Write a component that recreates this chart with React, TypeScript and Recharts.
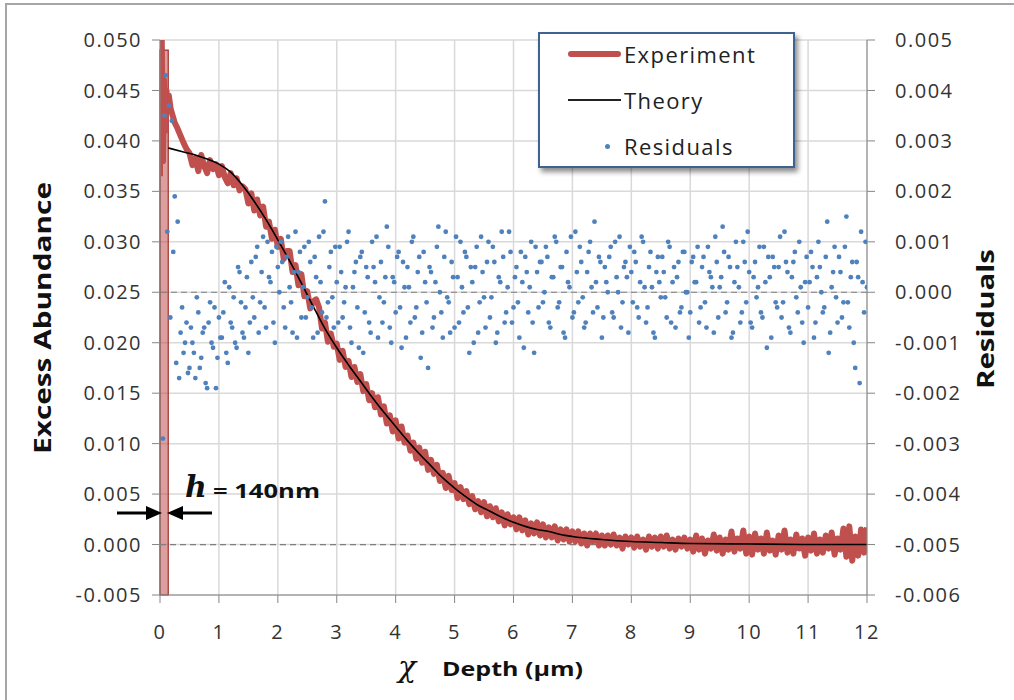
import { ComposedChart, Line, Scatter, XAxis, YAxis, CartesianGrid, ReferenceLine, ReferenceArea } from 'recharts'

const DEPTH_TICKS = [0, 1, 2, 3, 4, 5, 6, 7, 8, 9, 10, 11, 12]
const ABUNDANCE_TICKS = [-0.005, 0, 0.005, 0.01, 0.015, 0.02, 0.025, 0.03, 0.035, 0.04, 0.045, 0.05]
const RESIDUAL_TICKS = [-0.006, -0.005, -0.004, -0.003, -0.002, -0.001, 0, 0.001, 0.002, 0.003, 0.004, 0.005]

// surface spike region, read point by point
const EXP_HEAD_X = [0, 0.01, 0.02, 0.03, 0.05, 0.07, 0.09, 0.11, 0.13, 0.15, 0.18, 0.2, 0.25, 0.3, 0.35, 0.4, 0.45]
const EXP_HEAD_Y = [0.0365, 0.052, 0.04, 0.05, 0.038, 0.046, 0.041, 0.045, 0.043, 0.0445, 0.0432, 0.0428, 0.0418, 0.0412, 0.0405, 0.0398, 0.0392]

// rest of the profile, one reading every 0.05 µm from 0.5 µm
const EXP_TAIL_START = 0.5
const EXP_TAIL_STEP = 0.05
const EXP_TAIL_Y = [
  0.0388, 0.0376, 0.0383, 0.037, 0.0386, 0.0375, 0.0368, 0.0381, 0.0372, 0.0377,
  0.0366, 0.0375, 0.0364, 0.0358, 0.0368, 0.0356, 0.0363, 0.0351, 0.0355, 0.0352,
  0.0338, 0.0348, 0.0331, 0.0342, 0.0326, 0.0335, 0.0315, 0.032, 0.0303, 0.0312,
  0.0295, 0.0303, 0.0283, 0.0291, 0.0291, 0.027, 0.0277, 0.0257, 0.0268, 0.0246,
  0.0251, 0.0234, 0.0241, 0.0243, 0.0235, 0.0214, 0.022, 0.0201, 0.0209, 0.0196,
  0.0199, 0.0183, 0.0192, 0.0176, 0.0182, 0.0166, 0.0176, 0.0161, 0.0169, 0.0152,
  0.0159, 0.0143, 0.015, 0.0136, 0.0146, 0.0129, 0.0137, 0.012, 0.0128, 0.0112,
  0.0123, 0.0105, 0.0117, 0.0101, 0.0108, 0.0093, 0.0101, 0.0085, 0.0096, 0.0081,
  0.0092, 0.0074, 0.0084, 0.007, 0.0079, 0.0063, 0.0071, 0.0056, 0.0068, 0.0054,
  0.0061, 0.0046, 0.0057, 0.0045, 0.0053, 0.004, 0.0048, 0.0035, 0.0043, 0.0032,
  0.0042, 0.0028, 0.0038, 0.0027, 0.0036, 0.0023, 0.0032, 0.0019, 0.003, 0.002,
  0.0027, 0.0015, 0.0027, 0.0014, 0.0024, 0.001, 0.0021, 0.0011, 0.0022, 0.0009,
  0.002, 0.0007, 0.0017, 0.0007, 0.0018, 0.0004, 0.0015, 0.0005, 0.0015, 0.0003,
  0.0013, 0.0003, 0.0013, 0.0001, 0.0011, -0.0001, 0.0011, 0.0003, 0.0011, -0.0001,
  0.0009, -0.0001, 0.0009, 0.0, 0.001, -0.0001, 0.0007, -0.0004, 0.0008, 0.0,
  0.0007, -0.0003, 0.0008, -0.0002, 0.0005, -0.0005, 0.0008, -0.0002, 0.0007, -0.0004,
  0.0008, -0.0002, 0.0009, -0.0004, 0.0005, -0.0005, 0.0006, -0.0002, 0.0007, -0.0004,
  0.0005, -0.0007, 0.0009, -0.0005, 0.0006, -0.0009, 0.0004, -0.0004, 0.001, -0.0006,
  0.0007, -0.0009, 0.0005, -0.0005, 0.0013, -0.0007, 0.0006, -0.0004, 0.0014, -0.0009,
  0.0008, -0.001, 0.0011, -0.0005, 0.0006, -0.0009, 0.0012, -0.0006, 0.0004, -0.001,
  0.0009, -0.0005, 0.0014, -0.0008, 0.0005, -0.0009, 0.001, -0.0004, 0.0006, -0.0011,
  0.0007, -0.0006, 0.0011, -0.0009, 0.0005, -0.0008, 0.0009, -0.0004, 0.0012, -0.001,
  0.0006, -0.0005, 0.0016, -0.0012, 0.0018, -0.0016, 0.0008, -0.0011, 0.0015, -0.0008,
  0.0017,
]

const THEORY_X = [0.14, 0.4, 0.6, 0.8, 1.0, 1.2, 1.4, 1.6, 1.8, 2.0, 2.2, 2.4, 2.6, 2.8, 3.0, 3.2, 3.4, 3.6, 3.8, 4.0, 4.2, 4.4, 4.6, 4.8, 5.0, 5.2, 5.4, 5.6, 5.8, 6.0, 6.2, 6.4, 6.6, 6.8, 7.0, 7.5, 8.0, 8.5, 9.0, 10.0, 11.0, 12.0]
const THEORY_Y = [0.0393, 0.0389, 0.0386, 0.0382, 0.0377, 0.0369, 0.0356, 0.034, 0.0322, 0.0302, 0.0281, 0.0259, 0.0236, 0.0214, 0.0195, 0.0178, 0.0162, 0.0146, 0.0131, 0.0117, 0.0103, 0.009, 0.0078, 0.0066, 0.0056, 0.0047, 0.0039, 0.0033, 0.0027, 0.0022, 0.0018, 0.0015, 0.0013, 0.001, 0.0008, 0.0005, 0.0003, 0.0002, 0.0001, 0.00005, 0, 0]

// residuals, two interleaved passes, one every 0.05 µm each
const RES_A_START = 0.05
const RES_B_START = 0.075
const RES_STEP = 0.05
const RESIDUALS_A = [
  -0.0029, 0.0043, 0.0037, 0.0034, 0.0019, 0.0014, -0.0008, -0.0012, -0.0006, -0.0015,
  -0.001, -0.0017, -0.0004, -0.0013, -0.0007, -0.0019, -0.0002, -0.0011, -0.0019, -0.0005,
  -0.0009, 0.0002, -0.0014, -0.0006, -0.0001, -0.0011, 0.0004, -0.0008, -0.0003, -0.0012,
  0.0006, -0.0005, 0.0009, -0.0002, 0.0011, -0.0007, 0.0003, 0.0008, -0.001, 0.0005,
  0.001, -0.0003, 0.0007, 0.0001, -0.0008, 0.0012, 0.0004, -0.0005, 0.0009, -0.0001,
  0.0006, -0.0009, 0.0003, 0.0011, -0.0004, 0.0018, -0.0002, 0.0008, -0.0007, 0.0002,
  0.0009, -0.0005, 0.0001, 0.0012, -0.001, 0.0004, -0.0003, 0.0007, -0.0012, 0.0005,
  -0.0006, 0.001, 0.0002, -0.0009, 0.0006, -0.0002, 0.0013, -0.0007, 0.0003, -0.0004,
  0.0008, -0.0011, 0.0001, 0.0005, -0.0006, 0.0011, -0.0003, 0.0007, -0.0008, 0.0002,
  -0.0015, 0.0004, -0.0005, 0.0009, 0.0, -0.0009, 0.0012, -0.0002, 0.0006, -0.0007,
  0.0003, 0.001, -0.0004, 0.0007, -0.0012, 0.0002, 0.0005, -0.0008, 0.0011, -0.0001,
  0.0006, -0.0005, 0.0009, -0.001, 0.0003, 0.0012, -0.0006, 0.0001, 0.0008, -0.0003,
  0.0005, -0.0009, 0.0002, 0.0007, -0.0004, 0.001, -0.0012, 0.0004, 0.0006, -0.0002,
  0.0009, -0.0006, 0.0003, 0.0011, -0.0003, 0.0005, -0.0008, 0.0008, 0.0001, -0.0005,
  0.0012, -0.0002, 0.0006, -0.0007, 0.0004, 0.001, -0.0004, 0.0002, 0.0007, -0.0009,
  0.0005, 0.0, 0.0009, -0.0005, 0.0003, 0.0011, -0.0002, 0.0006, -0.0008, 0.0004,
  0.0008, -0.0003, 0.0002, 0.001, -0.0006, 0.0005, 0.0001, -0.0009, 0.0007, -0.0001,
  0.0004, -0.0005, 0.0009, 0.0002, -0.0007, 0.0006, -0.0003, 0.0008, 0.0, -0.0004,
  0.0007, 0.0002, -0.0006, 0.0005, -0.0002, 0.0009, 0.0003, -0.0008, 0.0006, 0.0001,
  0.0013, -0.0004, 0.0007, -0.0009, 0.0002, 0.0005, -0.0006, 0.001, -0.0002, 0.0004,
  -0.0007, 0.0006, 0.0001, -0.0004, 0.0009, -0.0011, 0.0003, 0.0007, -0.0002, 0.0005,
  -0.0005, 0.0012, 0.0004, -0.0008, 0.0006, -0.0001, 0.001, -0.0006, 0.0002, -0.0003,
  0.0008, -0.0009, 0.0003, 0.0005, -0.0004, 0.0007, -0.0012, 0.0001, 0.0009, -0.0006,
  0.0004, -0.0002, 0.0015, -0.0007, 0.0006, -0.0015, 0.0003, 0.0012, -0.0004, 0.0001,
]
const RESIDUALS_B = [
  0.0035, 0.0012, -0.0005, 0.0008, -0.0014, -0.0017, -0.0003, -0.001, -0.0016, -0.0007,
  -0.0012, -0.0001, -0.0015, -0.0008, -0.0018, -0.0006, -0.001, -0.0003, -0.0013, -0.0009,
  -0.0004, -0.0012, 0.0001, -0.0007, -0.001, 0.0005, -0.0002, -0.0009, 0.0003, -0.0006,
  -0.0001, 0.0007, -0.0008, 0.0004, -0.0003, 0.001, 0.0002, -0.0006, 0.0009, 0.0,
  0.0006, -0.0007, 0.0011, -0.0002, 0.0004, -0.0009, 0.0008, 0.0001, -0.0005, 0.001,
  -0.0003, 0.0007, -0.0008, 0.0002, 0.0012, -0.0005, 0.0005, -0.0001, 0.0009, -0.0006,
  0.0004, -0.0002, 0.001, -0.0007, 0.0001, 0.0006, -0.0011, 0.0008, -0.0004, 0.0003,
  -0.0008, 0.0005, 0.0011, -0.0001, -0.0006, 0.0003, 0.0009, -0.001, 0.0002, 0.0007,
  -0.0003, 0.0006, -0.0009, 0.0001, 0.001, -0.0005, 0.0004, -0.0013, 0.0008, -0.0002,
  0.0005, -0.0007, 0.0002, 0.0013, -0.0004, 0.0007, -0.0001, -0.0008, 0.0003, 0.0011,
  -0.0006, 0.0001, 0.0008, -0.0003, 0.0005, -0.001, 0.0009, -0.0002, 0.0004, -0.0007,
  0.001, -0.0001, 0.0006, -0.0008, 0.0002, 0.0007, -0.0004, 0.0012, -0.0006, 0.0003,
  -0.0002, 0.0008, -0.0011, 0.0004, 0.0001, -0.0006, 0.0009, -0.0003, 0.0006, 0.0,
  0.0007, -0.0007, 0.0003, 0.001, -0.0002, 0.0005, -0.0009, 0.0002, 0.0011, -0.0004,
  0.0004, 0.0009, -0.0001, -0.0006, 0.0008, 0.0001, 0.0014, -0.0003, 0.0006, -0.0005,
  0.0002, 0.0007, -0.0004, 0.001, 0.0, -0.0007, 0.0005, 0.0003, 0.0009, -0.0002,
  0.0006, -0.0005, 0.0011, 0.0001, -0.0003, 0.0008, -0.0008, 0.0004, 0.0002, 0.0007,
  -0.0001, 0.001, -0.0006, 0.0005, 0.0003, -0.0004, 0.0008, 0.0, -0.0009, 0.0006,
  0.0002, 0.0009, -0.0003, 0.0007, -0.0007, 0.0004, 0.0001, 0.0011, -0.0005, 0.0003,
  0.0008, -0.0002, 0.0005, -0.0008, 0.001, 0.0001, -0.0004, 0.0006, 0.0012, -0.0006,
  0.0003, -0.0001, 0.0009, -0.0005, 0.0002, 0.0007, -0.0009, 0.0005, -0.0003, 0.0011,
  -0.0002, 0.0006, -0.0007, 0.0003, 0.0008, -0.0004, 0.0001, -0.001, 0.0007, 0.0002,
  0.0005, -0.0006, 0.001, 0.0, -0.0003, 0.0014, -0.0008, 0.0004, -0.0001, 0.0007,
  -0.0005, 0.0009, -0.0002, 0.0003, -0.001, 0.0006, -0.0018, 0.0002, 0.001,
]

const RED = '#c0504d'
const BLUE = '#4f81bd'
const AXIS_GRAY = '#868686'
const GRID_GRAY = '#d9d9d9'
const TICK_FONT = { fill: '#333', fontSize: 20, fontFamily: 'Open Sans', letterSpacing: 1.5 }

const experimentData = [
  ...EXP_HEAD_X.map((x, i) => ({ x, y: EXP_HEAD_Y[i] })),
  ...EXP_TAIL_Y.map((y, i) => ({ x: +(EXP_TAIL_START + i * EXP_TAIL_STEP).toFixed(3), y })),
]
const theoryData = THEORY_X.map((x, i) => ({ x, y: THEORY_Y[i] }))
const residualData = [
  ...RESIDUALS_A.map((y, i) => ({ x: +(RES_A_START + i * RES_STEP).toFixed(3), y })),
  ...RESIDUALS_B.map((y, i) => ({ x: +(RES_B_START + i * RES_STEP).toFixed(3), y })),
]

const Dot = (props: any) => <circle cx={props.cx} cy={props.cy} r={2.4} fill={BLUE} />

function LegendBox() {
  const row = { display: 'flex', alignItems: 'center', height: 46 }
  const label = { fontFamily: 'Open Sans', fontSize: 22, color: '#222', letterSpacing: 1.4 }
  return (
    <div
      style={{
        position: 'absolute', left: 538, top: 32, width: 253, height: 132,
        background: '#fff', border: '2px solid #3f6390',
        boxShadow: '3px 4px 5px rgba(0,0,0,0.45)', boxSizing: 'content-box',
      }}
    >
      <div style={{ ...row, marginTop: -3 }}>
        <div style={{ width: 53, height: 6, background: RED, borderRadius: 3, marginLeft: 28, marginRight: 3 }} />
        <span style={label}>Experiment</span>
      </div>
      <div style={row}>
        <div style={{ width: 53, height: 2, background: '#222', marginLeft: 28, marginRight: 3 }} />
        <span style={label}>Theory</span>
      </div>
      <div style={row}>
        <div style={{ width: 53, marginLeft: 28, marginRight: 3, display: 'flex', justifyContent: 'center' }}>
          <div style={{ width: 5, height: 5, borderRadius: 3, background: BLUE, marginLeft: 26 }} />
        </div>
        <span style={label}>Residuals</span>
      </div>
    </div>
  )
}

export default function App() {
  return (
    <div style={{ position: 'absolute', left: 0, top: 0, width: 1014, height: 700, background: '#fff', overflow: 'hidden' }}>
      <div style={{ position: 'absolute', left: 5, top: 3, width: 1100, height: 800, borderLeft: '2px solid #a6a6a6', borderTop: '2px solid #a6a6a6' }} />
      <ComposedChart width={1014} height={700} data={experimentData} margin={{ top: 40, right: 0, bottom: 0, left: 0 }}>
        <CartesianGrid yAxisId="left" stroke={GRID_GRAY} strokeWidth={1.5} />
        <XAxis
          type="number"
          dataKey="x"
          domain={[0, 12]}
          ticks={DEPTH_TICKS}
          allowDataOverflow
          height={105}
          tickSize={8}
          tickMargin={22}
          stroke={AXIS_GRAY}
          tick={TICK_FONT}
        />
        <YAxis
          yAxisId="left"
          dataKey="y"
          type="number"
          domain={[-0.005, 0.05]}
          ticks={ABUNDANCE_TICKS}
          allowDataOverflow
          width={160}
          tickSize={8}
          tickMargin={10}
          stroke={AXIS_GRAY}
          tick={TICK_FONT}
          tickFormatter={(v: number) => v.toFixed(3)}
        />
        <YAxis
          yAxisId="right"
          orientation="right"
          dataKey="y"
          type="number"
          domain={[-0.006, 0.005]}
          ticks={RESIDUAL_TICKS}
          allowDataOverflow
          width={147}
          tickSize={8}
          tickMargin={20}
          stroke={AXIS_GRAY}
          tick={{ ...TICK_FONT, textAnchor: 'start' }}
          tickFormatter={(v: number) => v.toFixed(3)}
        />
        <ReferenceLine yAxisId="left" y={0} stroke="#7f7f7f" strokeDasharray="6 4" strokeWidth={1.2} />
        <ReferenceLine yAxisId="right" y={0} stroke="#7f7f7f" strokeDasharray="6 4" strokeWidth={1.2} />
        <Line
          yAxisId="left"
          data={experimentData}
          dataKey="y"
          stroke={RED}
          strokeWidth={6}
          strokeLinejoin="round"
          dot={false}
          isAnimationActive={false}
        />
        <Line
          yAxisId="left"
          data={theoryData}
          dataKey="y"
          type="monotone"
          stroke="#000"
          strokeWidth={1.6}
          dot={false}
          isAnimationActive={false}
        />
        <ReferenceArea
          yAxisId="left"
          x1={0}
          x2={0.14}
          y1={-0.005}
          y2={0.049}
          fill={RED}
          fillOpacity={0.55}
          stroke="#a0302c"
          strokeOpacity={1}
          strokeWidth={1.2}
        />
        <Scatter yAxisId="right" data={residualData} shape={Dot} isAnimationActive={false} />
      </ComposedChart>

      <svg width={1014} height={700} style={{ position: 'absolute', left: 0, top: 0, pointerEvents: 'none' }}>
        <text
          transform="translate(51,318) rotate(-90)"
          textAnchor="middle"
          fontFamily="Open Sans"
          fontWeight="bold"
          fontSize={24}
          textLength={272}
          lengthAdjust="spacingAndGlyphs"
          fill="#111"
        >
          Excess Abundance
        </text>
        <text
          transform="translate(994,319) rotate(-90)"
          textAnchor="middle"
          fontFamily="Open Sans"
          fontWeight="bold"
          fontSize={24}
          textLength={140}
          lengthAdjust="spacingAndGlyphs"
          fill="#111"
        >
          Residuals
        </text>
        <text x={398} y={677} fontFamily="DejaVu Serif" fontStyle="italic" fontSize={30} fill="#111">χ</text>
        <text x={442} y={676} fontFamily="Open Sans" fontWeight="bold" fontSize={19} textLength={141} lengthAdjust="spacingAndGlyphs" fill="#111">
          Depth (µm)
        </text>
        <text x={185} y={497} fontFamily="DejaVu Serif" fontStyle="italic" fontWeight="bold" fontSize={30} fill="#111">h</text>
        <text x={213} y={498} fontFamily="Open Sans" fontWeight="bold" fontSize={19} textLength={107} lengthAdjust="spacingAndGlyphs" fill="#111">
          = 140nm
        </text>
        <line x1={117} y1={513} x2={150} y2={513} stroke="#000" strokeWidth={3} />
        <polygon points="162,513 146,506 146,520" fill="#000" />
        <line x1={179} y1={513} x2={212} y2={513} stroke="#000" strokeWidth={3} />
        <polygon points="167,513 183,506 183,520" fill="#000" />
      </svg>

      <LegendBox />
    </div>
  )
}
